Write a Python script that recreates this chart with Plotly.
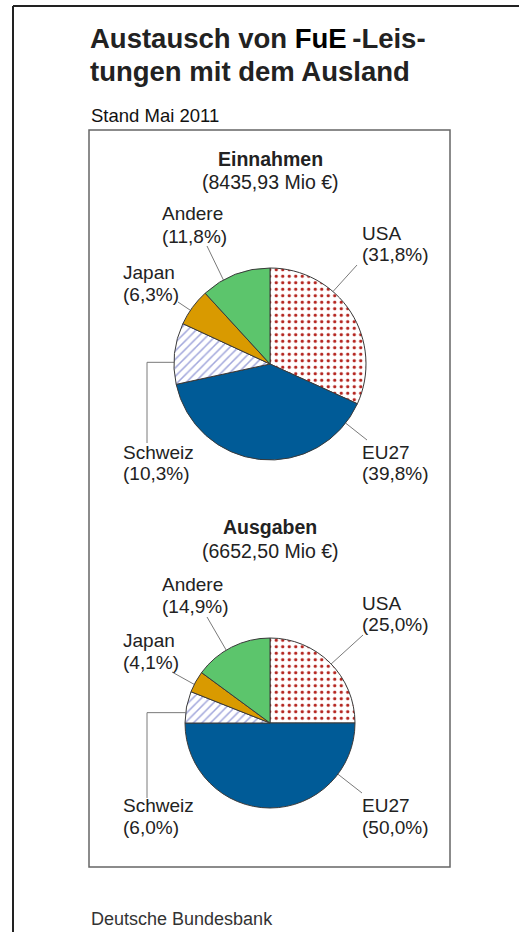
import math
import plotly.graph_objects as go

# Data
regions = ["USA", "EU27", "Schweiz", "Japan", "Andere"]
einnahmen_pct = [31.8, 39.8, 10.3, 6.3, 11.8]
ausgaben_pct = [25.0, 50.0, 6.0, 4.1, 14.9]
einnahmen_total = "8435,93"
ausgaben_total = "6652,50"

W, H = 519, 932
FONT = "Liberation Sans, Arial, Helvetica, sans-serif"
TEXT = "#222222"
LEAD = "#7a7a7a"


def px(x):
    return x / W


def py(y):
    return 1 - y / H


def pie_domain(cx, cy, r):
    return dict(x=[px(cx - r), px(cx + r)], y=[py(cy + r), py(cy - r)])


def edge(cx, cy, r, deg):
    a = math.radians(deg)
    return cx + r * math.sin(a), cy - r * math.cos(a)


colors = ["white", "#005b97", "white", "#d99a00", "#5cc56c"]
patterns = dict(
    shape=[".", "", "/", "", ""],
    fgcolor=["#b3221c", "#005b97", "#a3a8dc", "#d99a00", "#5cc56c"],
    bgcolor=["white", "#005b97", "white", "#d99a00", "#5cc56c"],
    size=[6.5, 8, 6, 8, 8],
    solidity=[0.2, 0.3, 0.25, 0.3, 0.3],
    fillmode="replace",
)

# pie geometry (pixel space)
charts = [
    dict(values=einnahmen_pct, title="Einnahmen", total=einnahmen_total,
         cx=270, cy=364, r=96, head=(159, 182),
         # label: (x, name_y, pct_y, edge_angle, outer end)
         labels={
             "Andere": (160, 214, 236, 331, (207, 246)),
             "USA": (360, 233, 255, 41, (357, 265)),
             "Japan": (121, 272, 294, 304, (178, 302)),
             "Schweiz": (121, 452, 474, 271, None),
             "EU27": (360, 452, 474, 128, (367, 440)),
         }, elbow=(147, 443)),
    dict(values=ausgaben_pct, title="Ausgaben", total=ausgaben_total,
         cx=270, cy=723, r=85, head=(527, 551),
         labels={
             "Andere": (160, 584, 606, 329, (207, 617)),
             "USA": (360, 603, 624, 46, (363, 635)),
             "Japan": (121, 640, 662, 297, (172, 672)),
             "Schweiz": (121, 805, 827, 277, None),
             "EU27": (360, 805, 827, 127, (362, 793)),
         }, elbow=(147, 798)),
]

fig = go.Figure()
annotations = []
shapes = []

for c in charts:
    fig.add_trace(go.Pie(
        labels=regions,
        values=c["values"],
        sort=False,
        direction="clockwise",
        rotation=0,
        textinfo="none",
        hoverinfo="label+percent",
        marker=dict(colors=colors, pattern=patterns,
                    line=dict(color="#3a3a3a", width=1)),
        domain=pie_domain(c["cx"], c["cy"], c["r"]),
        showlegend=False,
    ))

    annotations.append(dict(x=px(c["cx"]), y=py(c["head"][0]), text="<b>%s</b>" % c["title"],
                            font=dict(size=19.5, color=TEXT)))
    annotations.append(dict(x=px(c["cx"]), y=py(c["head"][1]), text="(%s Mio €)" % c["total"],
                            font=dict(size=19.5, color=TEXT)))

    for name, val in zip(regions, c["values"]):
        lx, ny, vy, ang, end = c["labels"][name]
        annotations.append(dict(x=px(lx), y=py(ny), text=name, xanchor="left",
                                font=dict(size=19, color=TEXT)))
        annotations.append(dict(x=px(lx), y=py(vy), text="(%s%%)" % ("%.1f" % val).replace(".", ","),
                                xanchor="left", font=dict(size=19, color=TEXT)))
        ex, ey = edge(c["cx"], c["cy"], c["r"], ang)
        if end is None:
            bx, by = c["elbow"]
            shapes.append(dict(type="line", x0=px(ex), y0=py(ey), x1=px(bx), y1=py(ey)))
            shapes.append(dict(type="line", x0=px(bx), y0=py(ey), x1=px(bx), y1=py(by)))
        else:
            shapes.append(dict(type="line", x0=px(ex), y0=py(ey), x1=px(end[0]), y1=py(end[1])))

for s in shapes:
    s.update(xref="paper", yref="paper", line=dict(color=LEAD, width=1), layer="below")

# title block
annotations += [
    dict(x=px(88), y=py(38), text="<b>Austausch von <span style='color:#000'>FuE</span>\u2009-Leis-</b>",
         xanchor="left", font=dict(size=27.5, color=TEXT)),
    dict(x=px(88), y=py(71), text="<b>tungen mit dem Ausland</b>",
         xanchor="left", font=dict(size=27.5, color=TEXT)),
    dict(x=px(89), y=py(115), text="Stand Mai 2011", xanchor="left",
         font=dict(size=18.5, color="#111111")),
    dict(x=px(89), y=py(919), text="Deutsche Bundesbank", xanchor="left",
         font=dict(size=18, color="#333333")),
]
for a in annotations:
    a.update(xref="paper", yref="paper", showarrow=False, yanchor="middle")
    a.setdefault("xanchor", "center")

# frames
shapes += [
    dict(type="rect", x0=px(89), y0=py(130), x1=px(450), y1=py(867),
         line=dict(color="#666666", width=1.5)),
    dict(type="line", x0=px(13), y0=py(6), x1=px(519), y1=py(6),
         line=dict(color="#222222", width=2)),
    dict(type="line", x0=px(13), y0=py(6), x1=px(13), y1=py(932),
         line=dict(color="#222222", width=2)),
]
for s in shapes:
    s.setdefault("xref", "paper")
    s.setdefault("yref", "paper")

fig.update_layout(
    width=W, height=H,
    margin=dict(l=0, r=0, t=0, b=0),
    paper_bgcolor="white",
    plot_bgcolor="white",
    font=dict(family=FONT, color=TEXT),
    annotations=annotations,
    shapes=shapes,
)

# drop the default 8px body margin so the figure fills the window exactly
fig.write_html("out.html", config={"displayModeBar": False},
               post_script="document.body.style.margin='0px';")
